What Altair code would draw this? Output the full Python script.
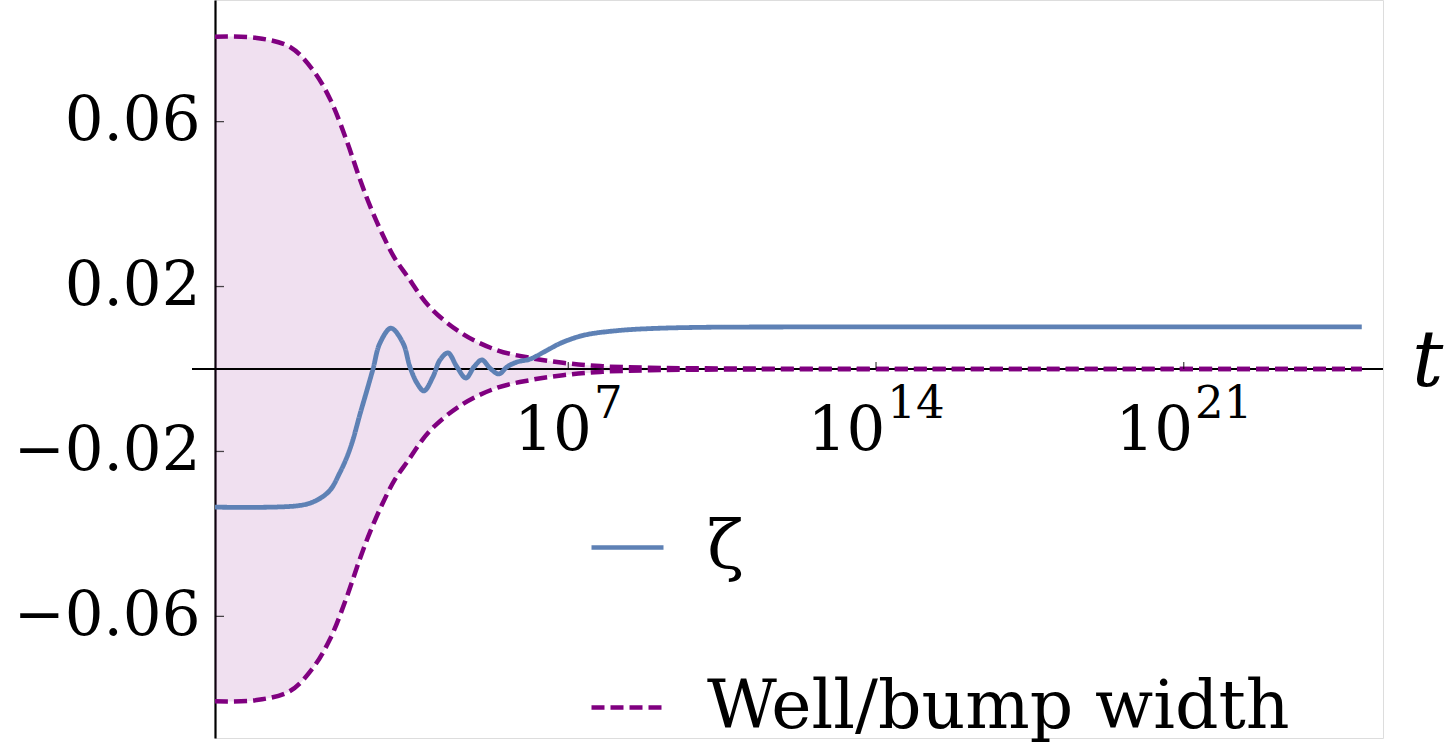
import altair as alt
import pandas as pd

# ---- data (log10 t, value) ----
logt_width = [-1.037, -0.09, 0.67, 1.19, 1.58, 1.96, 2.25, 2.48, 2.78, 3.05, 3.33, 3.85,
              4.60, 5.37, 6.13, 6.88, 7.72, 8.86, 11.1, 14.0, 18.0, 25.05]
half_width = [0.0806, 0.0803, 0.0781, 0.0725, 0.0655, 0.0553, 0.0463, 0.0398, 0.0325,
              0.0269, 0.0226, 0.0150, 0.0085, 0.0046, 0.0027, 0.0015, 0.0007, 0.0003,
              0.0001, 0.00003, 0.0, 0.0]

logt_zeta = [-1.037, 0.897, 1.283, 1.579, 1.80, 1.966, 2.10, 2.26, 2.421, 2.557, 2.716,
             2.966, 3.239, 3.398, 3.557, 3.717, 3.921, 4.081, 4.263, 4.467, 4.672, 4.854,
             5.036, 5.218, 5.423, 5.605, 5.833, 6.129, 6.493, 6.834, 7.357, 8.108,
             8.858, 9.996, 12.27, 25.05]
zeta = [-0.0335, -0.0331, -0.0318, -0.0294, -0.0252, -0.0213, -0.0172, -0.0110, -0.0051,
        0.0, 0.0063, 0.0099, 0.0063, 0.0005, -0.0034, -0.0053, -0.0019, 0.0022, 0.0039,
        0.0005, -0.0022, 0.0005, 0.0022, 0.0002, -0.0012, 0.0005, 0.0017, 0.0024, 0.0044,
        0.0063, 0.0082, 0.0093, 0.0098, 0.0101, 0.0102, 0.0102]

series_names = ["ζ", "Well/bump width"]
x_tick_values = [1e7, 1e14, 1e21]
x_tick_exponents = ["7", "14", "21"]
y_tick_values = [-0.06, -0.02, 0.02, 0.06]

BLUE = "#5E81B5"
PURPLE = "#800080"
FONT = "DejaVu Serif"

W, H = 1168, 738
x_domain = [10 ** -1.037, 10 ** 25.533]
y_domain = [-0.0895, 0.0895]

# ---- tables ----
area_df = pd.DataFrame({
    "t": [10 ** v for v in logt_width],
    "hi": half_width,
    "lo": [-v for v in half_width],
})
width_lines = pd.concat([
    pd.DataFrame({"t": [10 ** v for v in logt_width], "v": half_width,
                  "series": series_names[1], "branch": "up"}),
    pd.DataFrame({"t": [10 ** v for v in logt_width], "v": [-v for v in half_width],
                  "series": series_names[1], "branch": "lo"}),
])
zeta_df = pd.DataFrame({"t": [10 ** v for v in logt_zeta], "v": zeta,
                        "series": series_names[0], "branch": "z"})
xt_df = pd.DataFrame({"t": x_tick_values, "exp": x_tick_exponents,
                      "nexp": [len(e) for e in x_tick_exponents]})
yt_df = pd.DataFrame({"v": y_tick_values})

xscale = alt.Scale(type="log", domain=x_domain, nice=False)
yscale = alt.Scale(domain=y_domain, nice=False, zero=False)

x_enc = alt.X("t:Q", scale=xscale, axis=None)
y_axis = alt.Axis(values=y_tick_values, grid=False, ticks=False, tickSize=0,
                  domain=True, domainColor="black", domainWidth=2.2,
                  labelExpr="replace(format(datum.value, '.2f'), '-', '\u2212')",
                  labelFont=FONT, labelFontSize=61, labelColor="black",
                  labelPadding=15, labelLimit=0, title=None)

color_scale = alt.Scale(domain=series_names, range=[BLUE, PURPLE])
dash_scale = alt.Scale(domain=series_names, range=[[1, 0], [13, 6]])

INTERP = "catmull-rom"

area = alt.Chart(area_df).mark_area(color=PURPLE, opacity=0.12, interpolate=INTERP).encode(
    x=x_enc,
    y=alt.Y("lo:Q", scale=yscale, axis=y_axis),
    y2="hi:Q",
)

x_axis_line = alt.Chart(xt_df).mark_rule(color="black", strokeWidth=2.2).encode(
    x=alt.value(-23), x2=alt.value(W), y=alt.datum(0)
)

legend = alt.Legend(title=None, orient="none", legendX=374, legendY=509,
                    symbolType="stroke", symbolSize=5184, symbolStrokeWidth=4.5,
                    labelFont=FONT, labelFontSize=68, labelColor="black",
                    labelOffset=41, rowPadding=87, padding=0, labelLimit=0)

width_lines_layer = alt.Chart(width_lines).mark_line(strokeWidth=4.5, interpolate=INTERP).encode(
    x="t:Q", y="v:Q",
    color=alt.Color("series:N", scale=color_scale, legend=legend),
    strokeDash=alt.StrokeDash("series:N", scale=dash_scale, legend=legend),
    detail="branch:N",
)
zeta_layer = alt.Chart(zeta_df).mark_line(strokeWidth=4.8, interpolate=INTERP).encode(
    x="t:Q", y="v:Q",
    color=alt.Color("series:N", scale=color_scale, legend=legend),
    strokeDash=alt.StrokeDash("series:N", scale=dash_scale, legend=legend),
    detail="branch:N",
)

x_ticks = alt.Chart(xt_df).mark_tick(orient="vertical", size=7, thickness=1.3,
                                     color="black", yOffset=-3.5).encode(
    x="t:Q", y=alt.datum(0)
)
y_ticks = alt.Chart(yt_df).mark_tick(orient="horizontal", size=9, thickness=1.3,
                                     color="black").encode(
    x=alt.value(4.5), y="v:Q"
)

# x tick labels: "10" plus a raised exponent, centred as a whole on the tick
def base_label(n, dx):
    return alt.Chart(xt_df).transform_filter(alt.datum.nexp == n).mark_text(
        text="10", font=FONT, fontSize=61, align="right", baseline="alphabetic",
        dx=dx, dy=81, color="black"
    ).encode(x="t:Q", y=alt.datum(0))


def exp_label(n, dx):
    return alt.Chart(xt_df).transform_filter(alt.datum.nexp == n).mark_text(
        font=FONT, fontSize=45, align="left", baseline="alphabetic",
        dx=dx, dy=49, color="black"
    ).encode(x="t:Q", y=alt.datum(0), text="exp:N")


x_labels = [base_label(1, 23.6), exp_label(1, 25.6), base_label(2, 9.3), exp_label(2, 11.3)]

t_label = alt.Chart(xt_df.head(1)).mark_text(
    text="t", font=FONT, fontSize=78, fontStyle="italic", align="left",
    baseline="middle", dy=-6, color="black"
).encode(x=alt.value(1197), y=alt.datum(0))

chart = alt.layer(area, x_axis_line, width_lines_layer, zeta_layer, x_ticks, y_ticks,
                  *x_labels, t_label).properties(
    width=W, height=H,
    padding={"left": 215, "top": 0, "right": 63, "bottom": 4},
    autosize=alt.AutoSizeParams(type="none"),
).configure_view(stroke=None).configure(background="white")

chart.save("out.html", embed_options={"renderer": "svg", "actions": False})
